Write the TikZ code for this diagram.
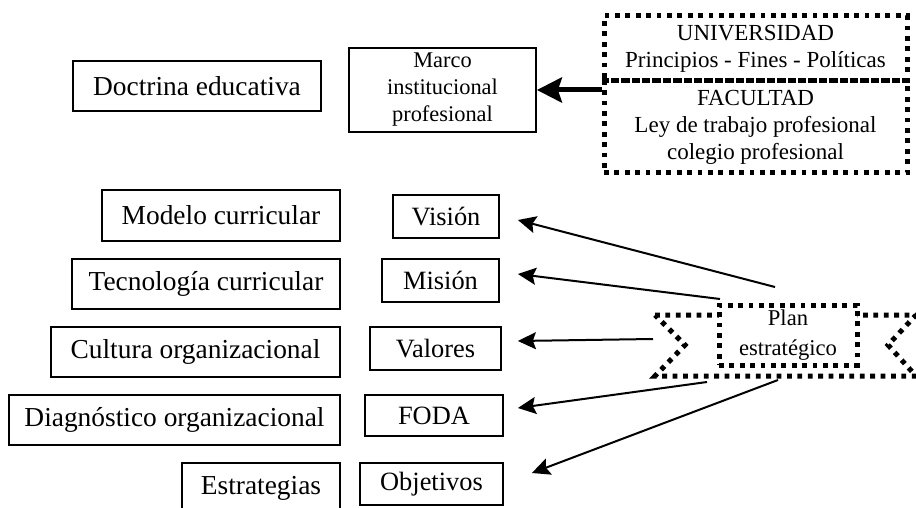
\documentclass[tikz,border=0pt]{standalone}
\usepackage{fontspec}
\setmainfont{Liberation Serif}
\usetikzlibrary{arrows.meta,calc}

\begin{document}
\begin{tikzpicture}[x=0.5pt,y=-0.5pt,>={Stealth[length=9pt,width=8.5pt,inset=1.5pt]},
  main node/.style={rectangle,draw,line width=0.9pt,inner sep=0pt,font=\fontsize{13.7}{16}\selectfont},
  sub node/.style={rectangle,draw,line width=0.9pt,inner sep=0pt,font=\fontsize{13.2}{16}\selectfont},
  small node/.style={rectangle,draw,line width=0.9pt,inner sep=0pt,align=center,font=\fontsize{11.2}{13.5}\selectfont},
  dot node/.style={rectangle,draw,line width=2.5pt,dash pattern=on 2.4pt off 2.8pt,inner sep=0pt,align=center,font=\fontsize{11.5}{13.5}\selectfont},
  link/.style={->,line width=1pt}]

  \useasboundingbox (0,0) rectangle (916,508);

  % marco institucional
  \node[main node,minimum width=124pt,minimum height=25pt] (doctrina) at (197,86) {Doctrina educativa};
  \node[small node,minimum width=93.5pt,minimum height=42pt] (marco) at (442.5,90) {Marco\\institucional\\profesional};
  \node[dot node,minimum width=151.5pt,minimum height=32.5pt] (univ) at (755.5,48.5) {UNIVERSIDAD\\Principios - Fines - Pol\'iticas};
  \node[dot node,minimum width=151.5pt,minimum height=46pt] (facu) at (755.5,127) {FACULTAD\\Ley de trabajo profesional\\colegio profesional};

  % columna izquierda
  \node[main node,minimum width=119pt,minimum height=25.5pt] (modelo) at (221,215.5) {Modelo curricular};
  \node[main node,minimum width=134pt,minimum height=25pt] (tecno) at (206,284) {Tecnolog\'ia curricular};
  \node[main node,minimum width=144.5pt,minimum height=25pt] (cultura) at (195.5,352) {Cultura organizacional};
  \node[main node,minimum width=165.5pt,minimum height=25pt] (diag) at (174.5,420) {Diagn\'ostico organizacional};
  \node[main node,minimum width=79pt,minimum height=25pt] (estrat) at (261,488) {Estrategias};

  % columna central
  \node[sub node,minimum width=53pt,minimum height=21.5pt] (vision) at (446,216.5) {Visi\'on};
  \node[sub node,minimum width=58.5pt,minimum height=21.5pt] (mision) at (440.5,280.5) {Misi\'on};
  \node[sub node,minimum width=65.5pt,minimum height=21.5pt] (valores) at (435.5,348.5) {Valores};
  \node[sub node,minimum width=69pt,minimum height=20.5pt] (foda) at (434,415.5) {FODA};
  \node[sub node,minimum width=71.5pt,minimum height=21pt] (objetivos) at (431.5,484) {Objetivos};

  % plan estrategico
  \draw[line width=2.5pt,dash pattern=on 2.4pt off 2.8pt]
    (655,315) -- (916,315) -- (888,345) -- (916,376) -- (655,376) -- (685,345) -- cycle;
  \node[dot node,fill=white,minimum width=69pt,minimum height=30pt,font=\fontsize{11.3}{15}\selectfont] (plan) at (788,335) {Plan\\estrat\'egico};

  \coordinate (pv) at (775,287);
  \coordinate (pm) at (720,299);
  \coordinate (pva) at (653,339);
  \coordinate (pf) at (707,382);
  \coordinate (po) at (778,380);

  \draw[->,line width=2.5pt,>={Stealth[length=12.5pt,width=12.5pt,inset=2pt]}] (univ.west |- marco.east) -- (marco.east);

  \draw[link] (pv) -- ([shift={(18,3.5)}]vision.east);
  \draw[link] (pm) -- ([shift={(18,-6.5)}]mision.east);
  \draw[link] (pva) -- ([shift={(16,-7.5)}]valores.east);
  \draw[link] (pf) -- ([shift={(14,-7.5)}]foda.east);
  \draw[link] (po) -- ([shift={(28,-11)}]objetivos.east);

\end{tikzpicture}
\end{document}
